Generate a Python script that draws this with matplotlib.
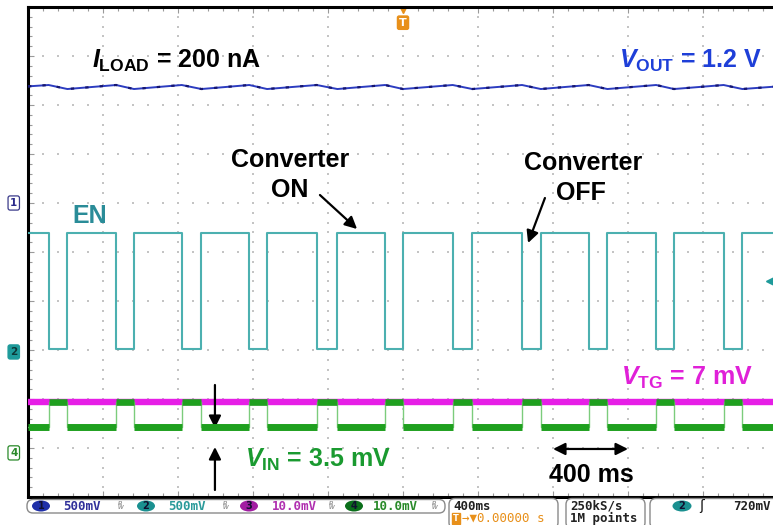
import numpy as np
import matplotlib
matplotlib.use('Agg')
import matplotlib.pyplot as plt
from matplotlib.patches import FancyBboxPatch, Ellipse
from matplotlib.ticker import MultipleLocator
from matplotlib.transforms import blended_transform_factory

plt.rcParams['font.family'] = ['Liberation Sans', 'DejaVu Sans']
plt.rcParams['mathtext.fontset'] = 'custom'
plt.rcParams['mathtext.rm'] = 'Liberation Sans:bold'
plt.rcParams['mathtext.it'] = 'Liberation Sans:bold:italic'
plt.rcParams['mathtext.bf'] = 'Liberation Sans:bold'

# scope settings
ms_per_div = 400
ch1_v_per_div = 0.5
ch2_v_per_div = 0.5
ch3_mv_per_div = 10.0
ch4_mv_per_div = 10.0
ch1_offset_div = 6.0
ch2_offset_div = 2.96
ch3_offset_div = 0.9
ch4_offset_div = 0.9
trigger_level_v = 0.72

# EN edges (ms, trigger at 0)
en_fall_ms = [-1890, -1530, -1180, -820, -460, -95, 265, 635, 990, 1350, 1710]
en_rise_ms = [-1790, -1435, -1075, -725, -350, 0, 370, 735, 1090, 1445, 1810]
en_high_v = 1.21
en_low_v = 0.03

# VOUT ripple: peak at EN fall, trough at EN rise
vout_peak_v = 1.204
vout_trough_v = 1.163
vout_start_v = 1.19
vout_end_v = 1.19

vtg_mv = 10.4
vin_low_mv = 5.2
vin_high_mv = 10.4

t_start, t_end = -2000, 2000

# ---- build traces
en_t, en_v = [t_start], [en_high_v]
vin_t, vin_v = [t_start], [vin_low_mv]
vout_t, vout_v = [t_start], [vout_start_v]
for f, r in zip(en_fall_ms, en_rise_ms):
    en_t += [f, f, r, r]
    en_v += [en_high_v, en_low_v, en_low_v, en_high_v]
    vin_t += [f, f, r, r]
    vin_v += [vin_low_mv, vin_high_mv, vin_high_mv, vin_low_mv]
    vout_t += [f, r]
    vout_v += [vout_peak_v, vout_trough_v]
en_t.append(t_end); en_v.append(en_high_v)
vin_t.append(t_end); vin_v.append(vin_low_mv)
vout_t.append(t_end); vout_v.append(vout_end_v)

en_y = ch2_offset_div + np.array(en_v) / ch2_v_per_div
vin_y = ch4_offset_div + np.array(vin_v) / ch4_mv_per_div
vout_y = ch1_offset_div + np.array(vout_v) / ch1_v_per_div
vtg_y = ch3_offset_div + vtg_mv / ch3_mv_per_div
vin_hi_y = ch4_offset_div + vin_high_mv / ch4_mv_per_div

W, H = 773, 525
fig = plt.figure(figsize=(W / 100, H / 100), dpi=100)
ax = fig.add_axes([28 / W, (H - 497) / H, 750 / W, 490 / H])
ax.set_xlim(t_start, t_end)
ax.set_ylim(0, 10)

for s in ['top', 'left', 'bottom']:
    ax.spines[s].set_linewidth(2.2)
    ax.spines[s].set_color('black')
ax.spines['right'].set_visible(False)
ax.xaxis.set_major_locator(MultipleLocator(ms_per_div))
ax.xaxis.set_minor_locator(MultipleLocator(ms_per_div / 5))
ax.yaxis.set_major_locator(MultipleLocator(1))
ax.yaxis.set_minor_locator(MultipleLocator(0.2))
ax.tick_params(which='both', direction='in', top=True, bottom=True, left=True, right=False,
               labelbottom=False, labelleft=False, color='#9a9a9a', width=0.8)
ax.tick_params(which='major', length=4)
ax.tick_params(which='minor', length=3)

# dotted graticule
for gx in np.arange(t_start + ms_per_div, t_end, ms_per_div):
    gy = np.arange(0, 10.01, 0.2)
    ax.scatter(np.full_like(gy, gx), gy, s=1.8, marker='s', color='#c4c4c4', lw=0, zorder=1)
for gy in range(1, 10):
    gx = np.arange(t_start, t_end + 1, ms_per_div / 5)
    ax.scatter(gx, np.full_like(gx, gy), s=1.8, marker='s', color='#c4c4c4', lw=0, zorder=1)

# traces
ax.plot(vout_t, vout_y, color='#2c3cc0', lw=1.4, zorder=3)
ax.plot(vout_t, vout_y, color='#161670', lw=1.6, ls=(0, (1.5, 5)), zorder=3)
ax.plot(en_t, en_y, color='#4cb0b0', lw=1.5, zorder=3)
ax.plot([t_start, t_end], [vtg_y, vtg_y], color='#e61ee6', lw=4.6, zorder=3)
ax.plot(vin_t, vin_y, color='#7ccc7c', lw=1.0, zorder=4)
low_starts = [t_start] + en_rise_ms
low_ends = en_fall_ms + [t_end]
for a, b in zip(low_starts, low_ends):
    ax.plot([a, b], [vin_y[0]] * 2, color='#1fa01f', lw=5.0, solid_capstyle='butt', zorder=4)
for a, b in zip(en_fall_ms, en_rise_ms):
    ax.plot([a, b], [vin_hi_y] * 2, color='#1fa01f', lw=4.8, solid_capstyle='butt', zorder=4)

# labels
fs = 18
ax.text(-1659, 8.755, r'$I_{\rm LOAD}$ = 200 nA', fontsize=fs, fontweight='bold',
        color='black', ha='left', va='baseline')
ax.text(1915, 8.755, r'$V_{\rm OUT}$ = 1.2 V', fontsize=fs, fontweight='bold',
        color='#1e3fd8', ha='right', va='baseline')
ax.text(-603, 6.735, 'Converter', fontsize=fs, fontweight='bold', ha='center', va='baseline')
ax.text(-603, 6.122, 'ON', fontsize=fs, fontweight='bold', ha='center', va='baseline')
ax.text(960, 6.673, 'Converter', fontsize=fs, fontweight='bold', ha='center', va='baseline')
ax.text(949, 6.061, 'OFF', fontsize=fs, fontweight='bold', ha='center', va='baseline')
ax.text(-1765, 5.592, 'EN', fontsize=fs, fontweight='bold', color='#2a8c98', ha='left', va='baseline')
ax.text(1867, 2.286, r'$V_{\rm TG}$ = 7 mV', fontsize=fs, fontweight='bold',
        color='#e020d8', ha='right', va='baseline')
ax.text(-843, 0.612, r'$V_{\rm IN}$ = 3.5 mV', fontsize=fs, fontweight='bold',
        color='#1a9a30', ha='left', va='baseline')
ax.text(1003, 0.306, '400 ms', fontsize=fs, fontweight='bold', ha='center', va='baseline')

arrow = dict(arrowstyle='-|>', color='black', lw=1.6, mutation_scale=18, shrinkA=0, shrinkB=0)
ax.annotate('', xy=(-245, 5.469), xytext=(-443, 6.163), arrowprops=arrow)
ax.annotate('', xy=(667, 5.184), xytext=(757, 6.102), arrowprops=arrow)
ax.annotate('', xy=(-1003, 1.408), xytext=(-1003, 2.286), arrowprops=arrow)
ax.annotate('', xy=(-1003, 1.02), xytext=(-1003, 0.143), arrowprops=arrow, annotation_clip=False)
ax.annotate('', xy=(800, 0.98), xytext=(1200, 0.98),
            arrowprops=dict(arrowstyle='<|-|>', color='black', lw=1.6, mutation_scale=18,
                            shrinkA=0, shrinkB=0))

# channel ground markers on the left
blend = blended_transform_factory(ax.transAxes, ax.transData)
markers = [('1', ch1_offset_div, 'white', '#3a3a8a', '#2a2a8a'),
           ('2', ch2_offset_div, '#1e9a9a', '#1e9a9a', '#0d3838'),
           ('4', ch4_offset_div, 'white', '#2a8a2a', '#2a8a2a')]
for lab, yoff, fc, ec, tc in markers:
    ax.text(-0.019, yoff, lab, transform=blend, fontsize=7.5, fontweight='bold',
            family='DejaVu Sans', color=tc, ha='center', va='center',
            bbox=dict(boxstyle='round,pad=0.2', fc=fc, ec=ec, lw=0.9))

# trigger position and level markers
ax.text(0, 9.68, 'T', fontsize=8, fontweight='bold', color='white', ha='center', va='center',
        family='DejaVu Sans',
        bbox=dict(boxstyle='round,pad=0.15', fc='#e8901a', ec='#e8901a'))
ax.plot(0, 9.93, marker='v', ms=5, color='#e8901a', clip_on=False)
ax.plot(1963, ch2_offset_div + trigger_level_v / ch2_v_per_div, marker='<', ms=7,
        color='#1e9a9a', clip_on=False, zorder=5)

# status bar
sb = fig.add_axes([0, 0, 1, 28 / H])
sb.set_xlim(0, W)
sb.set_ylim(H, 497)
sb.axis('off')
mono = 'DejaVu Sans Mono'
box_kw = dict(boxstyle='round,pad=0,rounding_size=6', fc='white', ec='#8a8a8a', lw=1)
sb.add_patch(FancyBboxPatch((27, 499.5), 418, 13.5, **box_kw))
sb.add_patch(FancyBboxPatch((449, 498.5), 109, 30, **box_kw))
sb.add_patch(FancyBboxPatch((566, 498.5), 79, 30, **box_kw))
sb.add_patch(FancyBboxPatch((650, 498.5), 150, 30, **box_kw))

status_ch = [('1', '500mV', '#1f2fa8', '#30309a', 41, 63, 121),
             ('2', '500mV', '#1a9090', '#2a9a9a', 146, 168, 226),
             ('3', '10.0mV', '#a21ca2', '#b030b0', 249, 272, 332),
             ('4', '10.0mV', '#0a6e1a', '#2a8a2a', 354, 373, 435)]
for num, val, fill, tc, cx, tx, bx in status_ch:
    sb.add_patch(Ellipse((cx, 506), 18, 11, fc=fill, ec='none'))
    sb.text(cx, 506.5, num, fontsize=7, fontweight='bold', color='#101030', ha='center',
            va='center', family='DejaVu Sans')
    sb.text(tx, 506.5, val, fontsize=9, fontweight='bold', color=tc, ha='left', va='center',
            family=mono)
    sb.text(bx, 506, r'$^{B}_{W}$', fontsize=6, color='#909090', ha='center', va='center')

sb.text(453, 506.5, '400ms', fontsize=9, fontweight='bold', color='#222222', ha='left',
        va='center', family=mono)
sb.text(456, 518.5, 'T', fontsize=6, fontweight='bold', color='white', ha='center', va='center',
        family='DejaVu Sans', bbox=dict(boxstyle='square,pad=0.1', fc='#e8901a', ec='#e8901a'))
sb.text(462, 518.5, '→▼0.00000 s', fontsize=9, color='#e8901a', ha='left', va='center',
        family=mono)
sb.text(570, 506.5, '250kS/s', fontsize=9, fontweight='bold', color='#222222', ha='left',
        va='center', family=mono)
sb.text(570, 518.5, '1M points', fontsize=9, fontweight='bold', color='#222222', ha='left',
        va='center', family=mono)
sb.add_patch(Ellipse((682, 506), 19, 11, fc='#1a9090', ec='none'))
sb.text(682, 506.5, '2', fontsize=7, fontweight='bold', color='#101030', ha='center',
        va='center', family='DejaVu Sans')
sb.text(702, 506.5, 'ʃ', fontsize=10, color='#111111', ha='center', va='center', family='DejaVu Sans')
sb.text(733, 506.5, '720mV', fontsize=9, fontweight='bold', color='#222222', ha='left',
        va='center', family=mono)

fig.savefig('out.png', dpi=100, facecolor='white')
